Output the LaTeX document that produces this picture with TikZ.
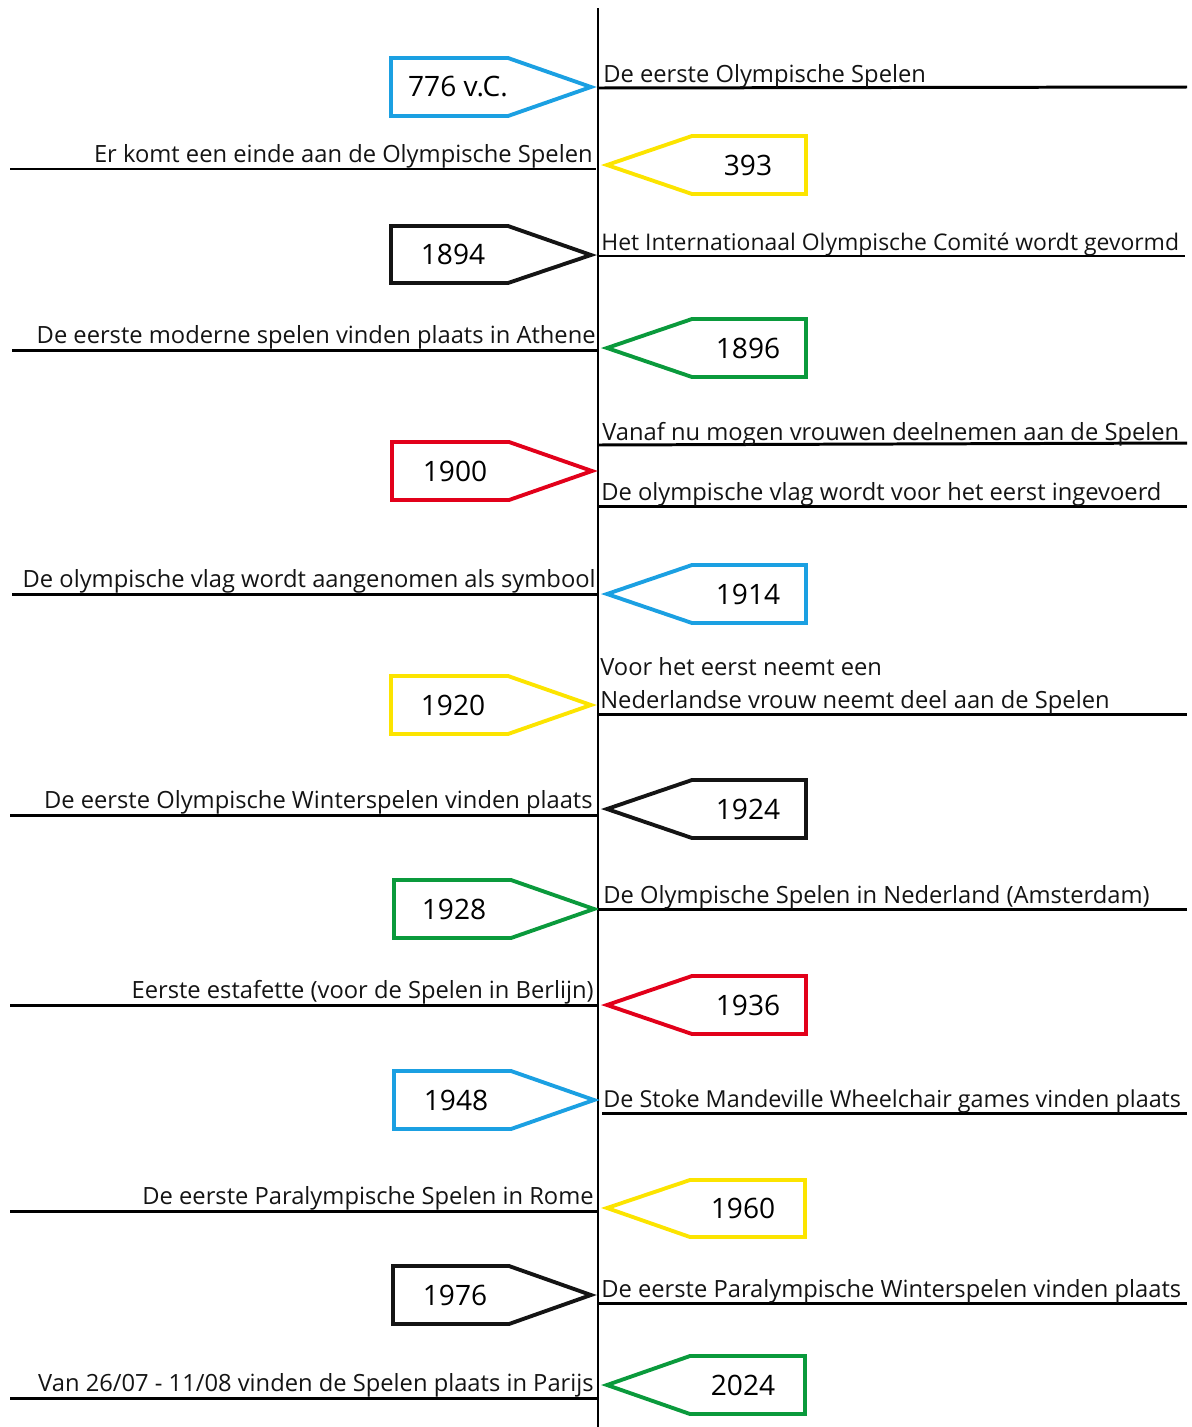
\documentclass[tikz,border=0pt]{standalone}
\usepackage{fontspec}
\setmainfont{Open Sans}
\definecolor{oblue}{RGB}{27,160,226}
\definecolor{oyellow}{RGB}{252,228,0}
\definecolor{ogreen}{RGB}{10,154,60}
\definecolor{ored}{RGB}{226,0,26}
\definecolor{oblack}{RGB}{20,20,20}
\tikzset{
  yr/.style={font=\fontsize{16}{19}\selectfont, inner sep=0pt},
  ev/.style={font=\fontsize{13.5}{18.5}\selectfont, inner sep=0pt, text=oblack},
  box/.style={line width=2.2pt, line join=miter},
  uline/.style={line width=1.7pt},
}
\begin{document}
\begin{tikzpicture}[x=0.02cm,y=-0.02cm]
  \useasboundingbox (0,0) rectangle (1192,1427);
  % axis
  \coordinate (top) at (598,8);
  \coordinate (bot) at (598,1427);
  \draw[uline] (top) -- (bot);

  % 776 v.C.
  \draw[box,oblue] (391,58) -- (508,58) -- (591,87) -- (508,116) -- (391,116) -- cycle;
  \node[yr] (y776) at (458,87) {776 v.C.};
  \draw[uline] (598,88) -- (1187,87);
  \node[ev,anchor=base west] (e776) at (603,82) {De eerste Olympische Spelen};

  % 393
  \draw[box,oyellow] (806,136) -- (692,136) -- (607,165) -- (692,194) -- (806,194) -- cycle;
  \node[yr] (y393) at (748,165) {393};
  \draw[uline] (10,169) -- (596,169);
  \node[ev,anchor=base east] (e393) at (593,162) {Er komt een einde aan de Olympische Spelen};

  % 1894
  \draw[box,oblack] (391,226) -- (508,226) -- (591,255) -- (508,283) -- (391,283) -- cycle;
  \node[yr] (y1894) at (453,254) {1894};
  \draw[uline] (598,256) -- (1185,256);
  \node[ev,anchor=base west,font=\fontsize{13.05}{16}\selectfont] (e1894) at (601,250)
    {Het Internationaal Olympische Comité wordt gevormd};

  % 1896
  \draw[box,ogreen] (806,319) -- (692,319) -- (607,348) -- (692,377) -- (806,377) -- cycle;
  \node[yr] (y1896) at (748,348) {1896};
  \draw[uline] (12,350) -- (598,350);
  \node[ev,anchor=base east] (e1896) at (596,343) {De eerste moderne spelen vinden plaats in Athene};

  % 1900
  \draw[box,ored] (392,442) -- (509,442) -- (592,471) -- (509,500) -- (392,500) -- cycle;
  \node[yr] (y1900) at (455,471) {1900};
  \draw[uline] (598,445) -- (1187,443);
  \node[ev,anchor=base west] (e1900a) at (602,440) {Vanaf nu mogen vrouwen deelnemen aan de Spelen};
  \draw[uline] (598,506) -- (1187,506);
  \node[ev,anchor=base west] (e1900b) at (601,500) {De olympische vlag wordt voor het eerst ingevoerd};

  % 1914
  \draw[box,oblue] (806,565) -- (692,565) -- (607,594) -- (692,623) -- (806,623) -- cycle;
  \node[yr] (y1914) at (748,594) {1914};
  \draw[uline] (12,594) -- (598,594);
  \node[ev,anchor=base east] (e1914) at (596,587) {De olympische vlag wordt aangenomen als symbool};

  % 1920
  \draw[box,oyellow] (391,676) -- (508,676) -- (591,705) -- (508,734) -- (391,734) -- cycle;
  \node[yr] (y1920) at (453,705) {1920};
  \draw[uline] (598,714) -- (1187,714);
  \node[ev,anchor=base west,align=left] (e1920) at (600,708)
    {Voor het eerst neemt een\\Nederlandse vrouw neemt deel aan de Spelen};

  % 1924
  \draw[box,oblack] (806,780) -- (692,780) -- (607,809) -- (692,838) -- (806,838) -- cycle;
  \node[yr] (y1924) at (748,809) {1924};
  \draw[uline] (10,815) -- (598,815);
  \node[ev,anchor=base east] (e1924) at (593,808) {De eerste Olympische Winterspelen vinden plaats};

  % 1928
  \draw[box,ogreen] (394,880) -- (511,880) -- (594,909) -- (511,938) -- (394,938) -- cycle;
  \node[yr] (y1928) at (454,909) {1928};
  \draw[uline] (598,909) -- (1187,909);
  \node[ev,anchor=base west] (e1928) at (603,903) {De Olympische Spelen in Nederland (Amsterdam)};

  % 1936
  \draw[box,ored] (806,976) -- (692,976) -- (607,1005) -- (692,1034) -- (806,1034) -- cycle;
  \node[yr] (y1936) at (748,1005) {1936};
  \draw[uline] (10,1005) -- (598,1005);
  \node[ev,anchor=base east] (e1936) at (594,998) {Eerste estafette (voor de Spelen in Berlijn)};

  % 1948
  \draw[box,oblue] (394,1071) -- (511,1071) -- (594,1100) -- (511,1129) -- (394,1129) -- cycle;
  \node[yr] (y1948) at (456,1100) {1948};
  \draw[uline] (602,1113) -- (1187,1113);
  \node[ev,anchor=base west,font=\fontsize{13.3}{16}\selectfont] (e1948) at (603,1107)
    {De Stoke Mandeville Wheelchair games vinden plaats};

  % 1960
  \draw[box,oyellow] (805,1180) -- (690,1180) -- (607,1208) -- (690,1237) -- (805,1237) -- cycle;
  \node[yr] (y1960) at (743,1208) {1960};
  \draw[uline] (10,1211) -- (598,1211);
  \node[ev,anchor=base east] (e1960) at (594,1204) {De eerste Paralympische Spelen in Rome};

  % 1976
  \draw[box,oblack] (393,1266) -- (509,1266) -- (591,1295) -- (509,1324) -- (393,1324) -- cycle;
  \node[yr] (y1976) at (455,1295) {1976};
  \draw[uline] (598,1303) -- (1187,1303);
  \node[ev,anchor=base west] (e1976) at (601,1297) {De eerste Paralympische Winterspelen vinden plaats};

  % 2024
  \draw[box,ogreen] (805,1356) -- (690,1356) -- (607,1385) -- (690,1414) -- (805,1414) -- cycle;
  \node[yr] (y2024) at (743,1385) {2024};
  \draw[uline] (10,1398) -- (598,1398);
  \node[ev,anchor=base east] (e2024) at (594,1391) {Van 26/07 - 11/08 vinden de Spelen plaats in Parijs};
\end{tikzpicture}
\end{document}
